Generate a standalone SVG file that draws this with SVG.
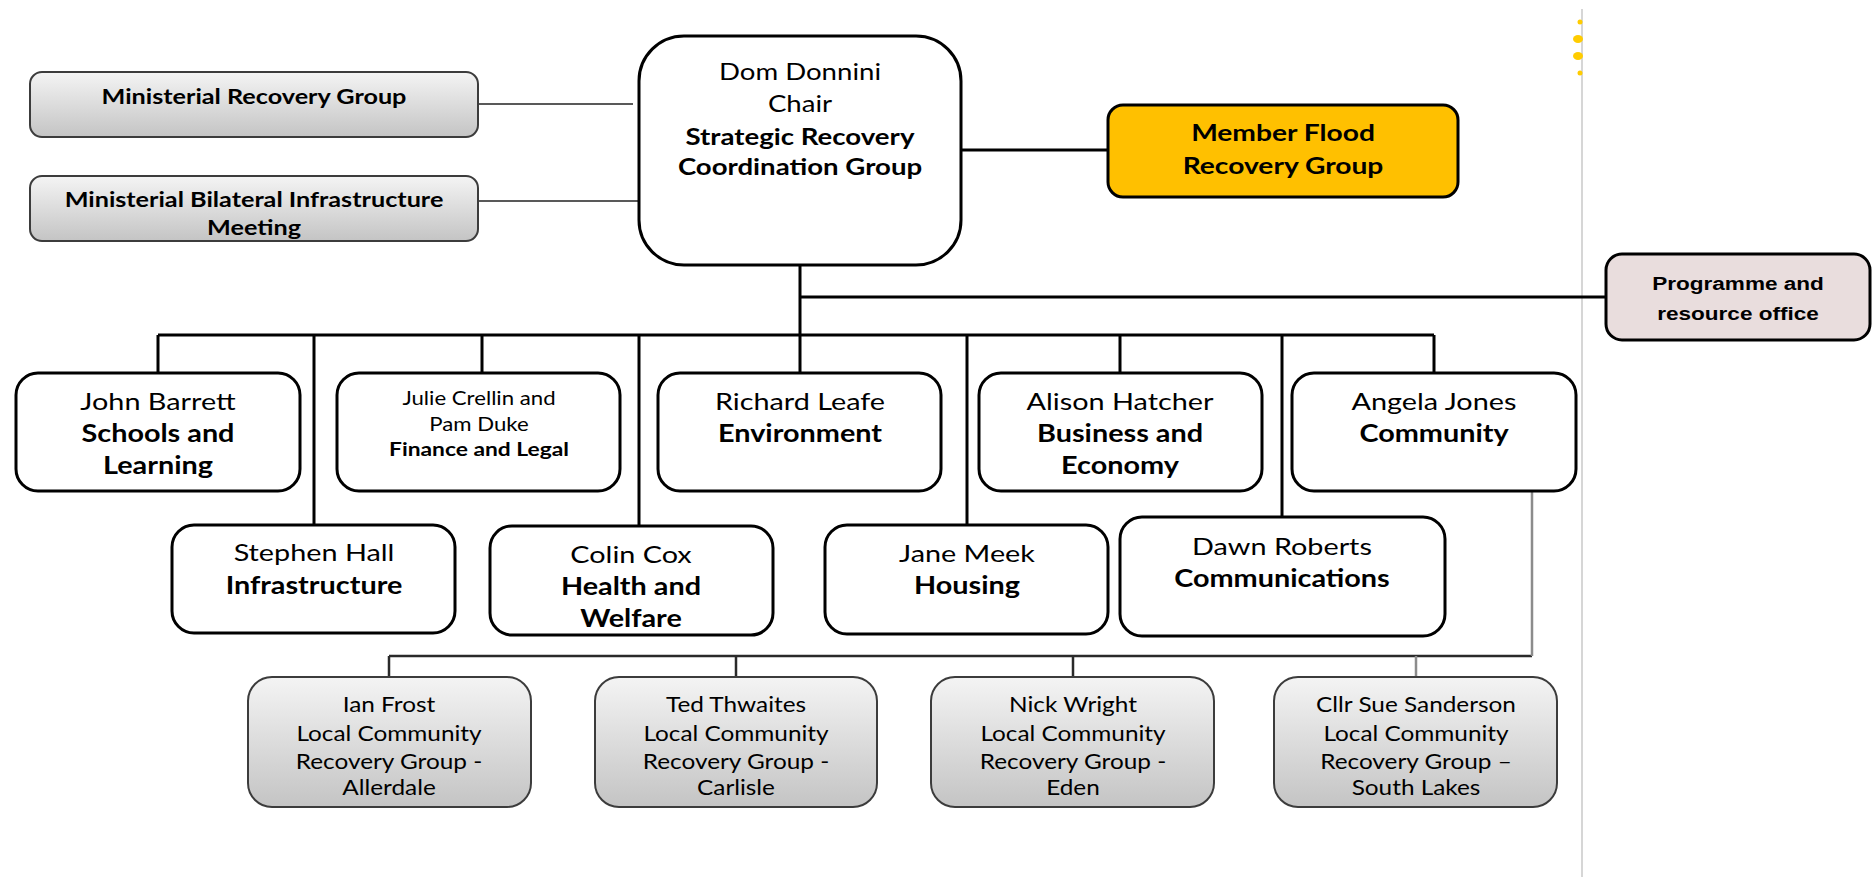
<svg xmlns="http://www.w3.org/2000/svg" width="1872" height="877" viewBox="0 0 1872 877">
<defs>
<linearGradient id="gr" x1="0" y1="0" x2="0" y2="1">
<stop offset="0" stop-color="#f4f4f4"/>
<stop offset="1" stop-color="#c4c4c4"/>
</linearGradient>
<style>
text{font-family:Lato,"Liberation Sans",sans-serif;fill:#000;text-anchor:middle}
.b{font-weight:700}
.box{fill:#fff;stroke:#000;stroke-width:3}
.gbox{fill:url(#gr);stroke:#3c3c3c;stroke-width:2}
.t24{font-size:24px}
.t23{font-size:23px}
.t21{font-size:21px}
.t20{font-size:20.3px}
.t18{font-size:18.5px}
.t19{font-size:19px}
.ar{font-family:"Liberation Sans",Arial,sans-serif;font-weight:700;font-size:18.8px}
.k{stroke:#000;stroke-width:3;fill:none}
.g{stroke:#595959;stroke-width:2;fill:none}
.lg{stroke:#8c8c8c;stroke-width:2.5;fill:none}
.d{stroke:#2a2a2a;stroke-width:2.5;fill:none}
</style>
</defs>
<rect width="1872" height="877" fill="#fff"/>
<g id="page-edge">
<path d="M1582 9V877" stroke="#c8c8c8" stroke-width="1.5"/>
<ellipse cx="1580" cy="22" rx="2.5" ry="2.5" fill="#ffcc00"/>
<ellipse cx="1578" cy="39" rx="5" ry="4" fill="#ffcc00"/>
<ellipse cx="1578" cy="56" rx="5" ry="4" fill="#ffcc00"/>
<ellipse cx="1580" cy="73" rx="2.5" ry="2.5" fill="#ffcc00"/>
</g>
<g id="connectors">
<path class="g" d="M478 104H633M478 201H645"/>
<path class="k" d="M961 150H1108M800 265V373M800 297H1606M158 335H1434M158 335V373M314 335V525M482 335V373M639 335V526M967 335V525M1120 335V373M1282 335V517M1434 335V373"/>
<path class="d" d="M389 656H1532M389 656V677M736 656V677M1073 656V677"/>
<path class="lg" d="M1532 491V656M1416 656V677"/>
</g>
<g id="ministerial-recovery">
<rect class="gbox" x="30" y="72" width="448" height="65" rx="12"/>
<g transform="translate(254 0) scale(1.2 1)"><text class="b t21" y="104">Ministerial Recovery Group</text></g>
</g>
<g id="ministerial-bilateral">
<rect class="gbox" x="30" y="176" width="448" height="65" rx="12"/>
<g transform="translate(254 0) scale(1.2 1)"><text class="b t21" y="207">Ministerial Bilateral Infrastructure</text><text class="b t21" y="235">Meeting</text></g>
</g>
<g id="strategic">
<rect class="box" x="639" y="36" width="322" height="229" rx="45"/>
<g transform="translate(800 0) scale(1.2 1)"><text class="t23" y="80">Dom Donnini</text><text class="t23" y="112">Chair</text><text class="b t23" y="145">Strategic Recovery</text><text class="b t23" y="175">Coordination Group</text></g>
</g>
<g id="member-flood">
<rect x="1108" y="105" width="350" height="92" rx="15" fill="#ffc000" stroke="#000" stroke-width="3"/>
<g transform="translate(1283 0) scale(1.2 1)"><text class="b" style="font-size:23.5px" y="141">Member Flood</text><text class="b" style="font-size:23.5px" y="174">Recovery Group</text></g>
</g>
<g id="programme">
<rect x="1606" y="254" width="264" height="86" rx="16" fill="#e9dddd" stroke="#000" stroke-width="3"/>
<g transform="translate(1738 0) scale(1.2 1)"><text class="ar" y="290">Programme  and</text><text class="ar" y="320">resource office</text></g>
</g>
<g id="john-barrett">
<rect class="box" x="16" y="373" width="284" height="118" rx="22"/>
<g transform="translate(158 0) scale(1.2 1)"><text class="t24" y="410">John Barrett</text><text class="b t24" y="442">Schools and</text><text class="b t24" y="474">Learning</text></g>
</g>
<g id="julie-crellin">
<rect class="box" x="337" y="373" width="283" height="118" rx="22"/>
<g transform="translate(479 0) scale(1.2 1)"><text class="t18" y="405">Julie Crellin and</text><text class="t18" y="431">Pam Duke</text><text class="b t19" y="456">Finance and Legal</text></g>
</g>
<g id="richard-leafe">
<rect class="box" x="658" y="373" width="283" height="118" rx="22"/>
<g transform="translate(800 0) scale(1.2 1)"><text class="t24" y="410">Richard Leafe</text><text class="b t24" y="442">Environment</text></g>
</g>
<g id="alison-hatcher">
<rect class="box" x="979" y="373" width="283" height="118" rx="22"/>
<g transform="translate(1120 0) scale(1.2 1)"><text class="t24" y="410">Alison Hatcher</text><text class="b t24" y="442">Business and</text><text class="b t24" y="474">Economy</text></g>
</g>
<g id="angela-jones">
<rect class="box" x="1292" y="373" width="284" height="118" rx="22"/>
<g transform="translate(1434 0) scale(1.2 1)"><text class="t24" y="410">Angela Jones</text><text class="b t24" y="442">Community</text></g>
</g>
<g id="stephen-hall">
<rect class="box" x="172" y="525" width="283" height="108" rx="22"/>
<g transform="translate(314 0) scale(1.2 1)"><text class="t24" y="561">Stephen Hall</text><text class="b t24" y="594">Infrastructure</text></g>
</g>
<g id="colin-cox">
<rect class="box" x="490" y="526" width="283" height="109" rx="22"/>
<g transform="translate(631 0) scale(1.2 1)"><text class="t24" y="563">Colin Cox</text><text class="b t24" y="595">Health and</text><text class="b t24" y="627">Welfare</text></g>
</g>
<g id="jane-meek">
<rect class="box" x="825" y="525" width="283" height="109" rx="22"/>
<g transform="translate(967 0) scale(1.2 1)"><text class="t24" y="562">Jane Meek</text><text class="b t24" y="594">Housing</text></g>
</g>
<g id="dawn-roberts">
<rect class="box" x="1120" y="517" width="325" height="119" rx="22"/>
<g transform="translate(1282 0) scale(1.2 1)"><text class="t24" y="555">Dawn Roberts</text><text class="b t24" y="587">Communications</text></g>
</g>
<g id="ian-frost">
<rect class="gbox" x="248" y="677" width="283" height="130" rx="24"/>
<g transform="translate(389 0) scale(1.2 1)"><text class="t20" y="712">Ian Frost</text><text class="t20" y="741">Local Community</text><text class="t20" y="769">Recovery Group -</text><text class="t20" y="795">Allerdale</text></g>
</g>
<g id="ted-thwaites">
<rect class="gbox" x="595" y="677" width="282" height="130" rx="24"/>
<g transform="translate(736 0) scale(1.2 1)"><text class="t20" y="712">Ted Thwaites</text><text class="t20" y="741">Local Community</text><text class="t20" y="769">Recovery Group -</text><text class="t20" y="795">Carlisle</text></g>
</g>
<g id="nick-wright">
<rect class="gbox" x="931" y="677" width="283" height="130" rx="24"/>
<g transform="translate(1073 0) scale(1.2 1)"><text class="t20" y="712">Nick Wright</text><text class="t20" y="741">Local Community</text><text class="t20" y="769">Recovery Group -</text><text class="t20" y="795">Eden</text></g>
</g>
<g id="sue-sanderson">
<rect class="gbox" x="1274" y="677" width="283" height="130" rx="24"/>
<g transform="translate(1416 0) scale(1.2 1)"><text class="t20" y="712">Cllr Sue Sanderson</text><text class="t20" y="741">Local Community</text><text class="t20" y="769">Recovery Group –</text><text class="t20" y="795">South Lakes</text></g>
</g>
</svg>
